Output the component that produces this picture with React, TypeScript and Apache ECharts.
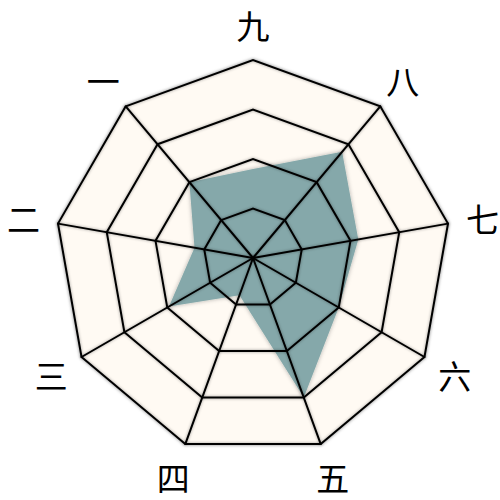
import * as echarts from 'echarts';
import { useEffect, useRef } from 'react';

// 指标（从左上开始逆时针）
const indicatorNames = ['一', '二', '三', '四', '五', '六', '七', '八', '九'];
const indicatorMax = [100, 100, 100, 100, 100, 100, 100, 100, 100];
const seriesValues = [50, 30, 49, 20, 75, 50, 54, 70, 45];

const lineStyle = {
  color: '#000',
  width: 2,
  shadowBlur: 3,
  shadowColor: 'rgba(0,0,0,0.4)',
};

export default function App() {
  const chartRef = useRef<HTMLDivElement>(null);

  useEffect(() => {
    if (!chartRef.current) return;
    const chart = echarts.init(chartRef.current, undefined, { renderer: 'svg' });

    const indicator = indicatorNames.map((name, i) => ({ name, max: indicatorMax[i] }));
    const base = {
      center: [253, 258],
      radius: 198,
      startAngle: 130,
      splitNumber: 4,
      shape: 'polygon',
      indicator,
    };

    chart.setOption({
      animation: false,
      backgroundColor: '#fff',
      radar: [
        // 底层：网格底色 + 文字
        {
          ...base,
          z: 1,
          axisName: {
            color: '#000',
            fontSize: 33,
            fontFamily: 'Noto Sans CJK SC',
            align: 'center',
            verticalAlign: 'middle',
          },
          nameGap: 35,
          axisLine: { show: false },
          splitLine: { show: false },
          splitArea: {
            areaStyle: {
              color: ['#fffaf3'],
              shadowBlur: 4,
              shadowColor: 'rgba(0,0,0,0.25)',
            },
          },
        },
        // 顶层：线条画在面积之上
        {
          ...base,
          z: 3,
          axisName: { show: false },
          axisLine: { lineStyle },
          splitLine: { lineStyle },
          splitArea: { show: false },
        },
      ],
      series: [
        {
          type: 'radar',
          radarIndex: 0,
          z: 2,
          symbol: 'none',
          lineStyle: { width: 0 },
          areaStyle: {
            color: '#85a8aa',
            opacity: 1,
            shadowBlur: 4,
            shadowColor: 'rgba(0,0,0,0.3)',
          },
          data: [{ value: seriesValues }],
        },
      ],
    });

    return () => chart.dispose();
  }, []);

  return (
    <div
      ref={chartRef}
      style={{ position: 'fixed', left: 0, top: 0, width: 500, height: 500 }}
    />
  );
}
